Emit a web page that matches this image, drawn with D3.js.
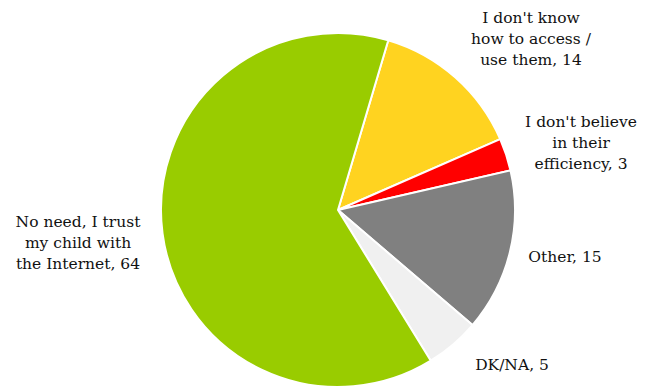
<!DOCTYPE html>
<html>
<head>
<meta charset="utf-8">
<script src="https://cdn.jsdelivr.net/npm/d3@7"></script>
<style>
  body { margin: 0; background: #fff; }
  svg { display: block; }
  .lbl { font-family: "DejaVu Serif", Georgia, serif; font-size: 15.5px; fill: #111; }
</style>
</head>
<body>
<div class="chart"></div>
<script>
var W = 648, H = 389;

// data, clockwise from the slice just right of 12 o'clock
var categories = ["I don't know how to access / use them", "I don't believe in their efficiency", "Other", "DK/NA", "No need, I trust my child with the Internet"];
var values = [14, 3, 15, 5, 64];
var colors = ["#FFD320", "#FF0000", "#808080", "#F0F0F0", "#99CC00"];
// label lines as wrapped in the picture
var labelLines = [
  ["I don't know", "how to access /", "use them, 14"],
  ["I don't believe", "in their", "efficiency, 3"],
  ["Other, 15"],
  ["DK/NA, 5"],
  ["No need, I trust", "my child with", "the Internet, 64"]
];
// label anchor (centre x, first baseline y)
var labelPos = [[531, 23], [581, 127], [565, 262], [512, 370], [78, 227]];

var cx = 338, cy = 210, r = 177;
var startDeg = 16.5;

var svg = d3.select(".chart").append("svg")
    .attr("width", W)
    .attr("height", H);

var pie = d3.pie()
    .sort(null)
    .value(function(d) { return d; })
    .startAngle(startDeg * Math.PI / 180)
    .endAngle(startDeg * Math.PI / 180 + 2 * Math.PI);

var arc = d3.arc().innerRadius(0).outerRadius(r);

var g = svg.append("g").attr("transform", "translate(" + cx + "," + cy + ")");

g.selectAll("path")
  .data(pie(values))
  .enter().append("path")
    .attr("d", arc)
    .attr("fill", function(d, i) { return colors[i]; })
    .attr("stroke", "#fff")
    .attr("stroke-width", 2)
    .attr("stroke-linejoin", "round");

// labels
var lbl = svg.append("g").selectAll("text")
  .data(labelLines)
  .enter().append("text")
    .attr("class", "lbl")
    .attr("text-anchor", "middle")
    .attr("x", function(d, i) { return labelPos[i][0]; })
    .attr("y", function(d, i) { return labelPos[i][1]; });

lbl.selectAll("tspan")
  .data(function(d, i) { return d.map(function(t) { return {t: t, x: labelPos[i][0]}; }); })
  .enter().append("tspan")
    .attr("x", function(d) { return d.x; })
    .attr("dy", function(d, j) { return j === 0 ? 0 : 21; })
    .text(function(d) { return d.t; });
</script>
</body>
</html>
